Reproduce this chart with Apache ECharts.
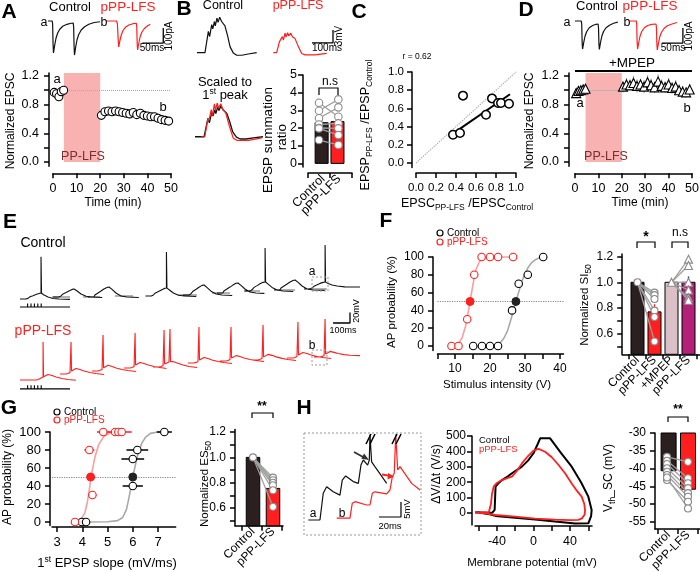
<!DOCTYPE html>
<html><head><meta charset="utf-8">
<script src="https://cdn.jsdelivr.net/npm/echarts@6/dist/echarts.min.js"></script>
<style>html,body{margin:0;padding:0;background:#fff}#c{width:700px;height:572px}</style>
</head><body><div id="c"></div>
<script>
const FONT='"Liberation Sans", Arial, Helvetica, sans-serif';
const RED='#ff1f1f', DARK='#2b1f1f';

// ===== Panel A =====
const aCtlTrace=[[0,0],[10,0],[11,-20],[12,-150],[13,-213],[14,-200],[16,-160],[19,-115],[23,-80],[28,-55],[35,-35],[45,-22],[55,-15],[60,-14],[61,-40],[62,-170],[63,-227],[64,-215],[66,-170],[69,-125],[73,-90],[79,-60],[87,-38],[97,-22],[110,-10],[124,-5]];
const aRedTrace=[[0,0],[25,0],[27,-20],[29,-130],[30,-173],[31,-165],[33,-130],[36,-95],[40,-65],[46,-42],[54,-27],[64,-18],[72,-15],[73,-40],[74,-150],[75,-193],[76,-185],[78,-145],[81,-105],[85,-75],[91,-50],[98,-33],[105,-22]];
const aRedOffset=138;
const aBaseT=[0.5,1.5,2.5,3.5,4.5];
const aBaseV=[0.97,0.95,0.91,0.98,1.00];
const aBaseE=[0.03,0.04,0.04,0.03,0.03];
const aPostT=[20.5,22,23.5,25,26.5,28,29.5,31,32.5,34,35.5,37,38.5,40,41.5,43,44.5,46,47.5,49];
const aPostV=[0.65,0.70,0.71,0.70,0.71,0.70,0.69,0.68,0.67,0.69,0.66,0.68,0.65,0.64,0.63,0.63,0.61,0.59,0.58,0.57];
const aPostE=[0.04,0.04,0.05,0.04,0.05,0.04,0.04,0.05,0.04,0.04,0.05,0.04,0.04,0.04,0.03,0.04,0.03,0.04,0.03,0.03];

// ===== Panel B =====
const bCtlTrace=[[0,0],[38,0],[54,4.9],[60,3.7],[70,6.5],[75,5.5],[83,7.2],[87,6.2],[95,8.0],[100,7.0],[108,8.2],[117,7.2],[133,6.2],[146,3.8],[157,1.4],[173,-0.1],[189,-0.6],[213,-0.6],[244,-0.3],[284,0]];
const bRedTrace=[[0,0],[16,0],[29,2.5],[33,2.2],[43,3.7],[48,2.9],[56,4.5],[60,3.6],[68,4.6],[73,3.9],[83,4.5],[91,3.7],[103,3.3],[119,1.4],[135,-0.2],[151,-0.5],[198,-0.5],[254,-0.15]];
const bRedOffset=363;
const bBarNames=['Control','pPP-LFS'];
const bBarX=[0.62,1.34];
const bBarV=[2.3,2.36];
const bBarErr=[0.22,0.26];
const bCtlPair=[3.43,2.98,2.55,2.2,2.0,1.98,1.32];
const bRedPair=[2.64,3.62,3.17,2.26,1.98,1.6,1.04];
const bYTicks=[0,1,2,3,4,5];

// ===== Panel C =====
const cX=[0.37,0.44,0.47,0.70,0.76,0.82,0.85,0.93];
const cY=[0.31,0.33,0.74,0.53,0.71,0.66,0.66,0.65];
const cFit=[[0.34,0.30],[0.94,0.755]];
const cXTicks=[0,0.2,0.4,0.6,0.8,1.0];
const cYTicks=[0,0.2,0.4,0.6,0.8,1.0];

// ===== Panel D =====
const dCtlTrace=[[0,0],[15,0],[16,-20],[17,-140],[18,-187],[19,-175],[21,-140],[24,-100],[28,-70],[34,-45],[42,-30],[50,-22],[55,-20],[56,-45],[57,-150],[58,-190],[59,-180],[61,-140],[64,-100],[68,-70],[74,-45],[82,-28],[92,-15],[102,-8]];
const dRedTrace=[[0,0],[15,0],[16,-20],[17,-140],[18,-187],[19,-175],[21,-140],[24,-100],[28,-70],[34,-45],[42,-30],[52,-22],[62,-20],[63,-45],[64,-150],[65,-193],[66,-183],[68,-145],[71,-105],[75,-75],[81,-50],[89,-32],[100,-20],[112,-10]];
const dRedOffset=131;
const dBaseT=[0.5,1.5,2.5,3.5,4.5];
const dBaseV=[0.96,0.99,1.00,1.01,1.02];
const dBaseE=[0.06,0.07,0.06,0.07,0.06];
const dPostT=[20.5,22,23.5,25,26.5,28,29.5,31,32.5,34,35.5,37,38.5,40,41.5,43,44.5,46,47.5,49];
const dPostV=[1.05,1.08,1.07,1.10,1.06,1.08,1.05,1.11,1.07,1.04,1.12,1.06,1.04,1.08,1.03,1.05,1.00,0.98,0.97,1.01];
const dPostE=[0.08,0.09,0.08,0.10,0.09,0.08,0.09,0.10,0.09,0.08,0.10,0.09,0.08,0.09,0.08,0.09,0.08,0.08,0.07,0.08];

// ===== Panel E (ms, mV) =====
const eCtlStart=[0,195,401,740,962,1162,1322,1499,1676];
const eCtlBase=[0,3.8,3.8,5.7,7.6,11.4,15.2,17.1,19];
const eCtlSweeps=[
 [[0,0],[35,0],[41,2.3],[47,1.1],[59,4.2],[65,3],[77,6.3],[83,5.1],[94,8.4],[100,7.2],[112,10.5],[124,11.4],[124,80],[127,11],[142,7.6],[165,3.8],[195,1],[230,0],[295,-0.8]],
 [[0,0],[35,0],[41,3],[47,1.9],[59,5.7],[65,4.4],[77,8.4],[83,7.2],[94,11.4],[100,10.3],[112,14.4],[124,15.2],[142,11.4],[165,5.7],[195,1.5],[230,0],[290,-1]],
 [[0,0],[35,0],[41,3.8],[47,2.5],[59,7.6],[65,6.3],[77,11.4],[83,10],[94,15.2],[100,14],[112,18],[124,19],[142,14.4],[165,7.6],[195,2],[230,0],[300,-1]],
 [[0,0],[35,0],[41,3],[47,1.9],[59,5.7],[65,4.4],[77,8.4],[83,7.2],[94,11.4],[100,10.3],[112,14.4],[124,15.2],[124,83.6],[127,15],[142,11.4],[165,5.7],[195,1.5],[230,0],[300,-1]],
 [[0,0],[35,0],[41,3.6],[47,2.4],[59,7.2],[65,6],[77,11],[83,9.8],[94,14.8],[100,13.6],[112,18.2],[124,19],[142,14],[165,7.2],[195,2],[230,0],[290,-1]],
 [[0,0],[35,0],[41,3.8],[47,2.6],[59,7.6],[65,6.4],[77,11.2],[83,10],[94,15],[100,14],[112,18.4],[124,19],[142,14.4],[165,7.6],[195,2],[230,0],[280,-0.8]],
 [[0,0],[35,0],[41,3.4],[47,2.2],[59,6.8],[65,5.6],[77,10.2],[83,9],[94,13.6],[100,12.4],[112,16.4],[124,17.1],[124,81.7],[127,17],[142,13],[165,6.8],[195,1.8],[230,0],[290,-1]],
 [[0,0],[35,0],[41,3.8],[47,2.5],[59,7.6],[65,6.3],[77,11.4],[83,10],[94,15.2],[100,14],[112,18],[124,19],[142,14.4],[165,7.6],[195,2],[230,0],[300,-0.8]],
 [[0,0],[35,0],[41,2.7],[47,1.6],[59,5.3],[65,4.2],[77,8],[83,6.8],[94,10.6],[100,9.5],[112,12.5],[124,13.3],[124,83.6],[127,13],[142,10.5],[165,7.6],[195,5.7],[240,4],[330,3.8]]
];
const eCtlGray=[[189,295,3.8],[372,472,3.8],[560,667,5.7],[932,1044,7.6],[1133,1239,11.4],[1328,1416,15.2],[1516,1623,17.1],[1699,1811,19]];
const eRedStart=[0,236,425,614,785,991,1180,1369,1575,1735];
const eRedBase=[0,11.4,17.1,22.8,24.7,32.3,36.1,38,41.8,43.7];
const eRedSweeps=[
 [[0,0],[95,0],[101,2],[107,1],[113,3.8],[119,2.9],[130,5.7],[136,5.7],[136,72.2],[139,6],[148,9.5],[165,10.5],[189,8.6],[213,5.7],[248,2.9],[283,1],[330,-0.5]],
 [[0,0],[35,0],[41,1.9],[47,1],[53,3.8],[59,2.9],[65,5.7],[65,60.8],[68,5.7],[77,9.5],[94,10.5],[118,8.6],[142,5.7],[177,2.9],[212,1],[260,-1]],
 [[0,0],[35,0],[41,2.2],[47,1.2],[53,4],[59,3],[65,5.7],[65,68.4],[68,6],[77,9.5],[94,10.8],[118,8.6],[142,5.7],[177,2.9],[212,1],[260,-1]],
 [[0,0],[35,0],[41,1.9],[47,1],[53,3.8],[59,2.9],[65,5.7],[65,66.5],[68,5.7],[77,9],[94,10.5],[118,8.6],[142,5.7],[177,2.9],[212,1],[250,-1]],
 [[0,0],[35,0],[41,1.9],[47,1],[53,3.8],[59,2.9],[65,5.7],[65,70.3],[68,5.7],[77,8],[94,9.5],[100,10],[100,72],[103,10],[118,10.5],[142,7.6],[177,3.8],[212,1],[260,-1]],
 [[0,0],[35,0],[41,2],[47,1.1],[53,3.9],[59,3],[65,5.7],[65,68.4],[68,5.8],[77,9.5],[94,10.5],[118,8.6],[142,5.7],[177,2.9],[212,1],[260,-1]],
 [[0,0],[35,0],[41,1.9],[47,1],[53,3.6],[59,2.8],[65,5.5],[65,64.6],[68,5.6],[77,9.2],[94,10.2],[118,8.4],[142,5.7],[177,2.9],[212,1],[260,-1]],
 [[0,0],[35,0],[41,2.1],[47,1.2],[53,3.9],[59,3],[65,5.7],[65,66.5],[68,5.9],[77,9.6],[94,10.6],[118,8.8],[142,5.9],[177,3],[212,1],[260,-1]],
 [[0,0],[35,0],[41,1.9],[47,1],[53,3.8],[59,2.9],[65,5.7],[65,68.4],[68,5.7],[77,9.5],[94,10.5],[118,8.6],[142,5.7],[177,2.9],[212,1],[260,-1]],
 [[0,0],[35,0],[41,2],[47,1.1],[53,3.9],[59,3],[65,5.8],[65,72.2],[68,5.8],[77,9.5],[94,10.6],[118,8.8],[142,6.5],[177,4.5],[212,3.2],[271,2.5]]
];
const eStimTicks=[45,65,85,105,125];

// ===== Panel F =====
const fCtlX=[15.2,17.7,20,22.3,26.3,28.2,30.8,35.2];
const fCtlY=[0,0,0,0,40,70,80,100];
const fRedX=[9,11,13.5,15.5,17.6,20,22.3,26.6];
const fRedY=[0,0,30,80,100,100,100,100];
const fCtl50=[27.4,50], fRed50=[14.3,50];
const fCtlCurve=[[15.2,0],[20,0.3],[22,1.5],[23,4],[24,9],[25,17],[26,30],[27,44],[27.4,50],[28,58],[29,71],[30,82],[31,89],[32,94],[33,97],[34,99],[35.2,100]];
const fRedCurve=[[9,0.3],[10,1],[11,3],[12,9],[13,22],[13.5,32],[14,43],[14.3,50],[15,66],[15.5,77],[16,86],[17,95],[18,99],[19,100],[26.6,100]];
const fBarNames=['Control','pPP-LFS','+MPEP','pPP-LFS'];
const fBarX=[0.5,1.5,2.5,3.5];
const fBarV=[1.0,0.77,1.0,1.0];
const fBarErr=[0,0.06,0,0.045];
const fRedPair=[0.92,0.90,0.87,0.78,0.73,0.54];
const fMpepPair=[1.18,1.13,1.0,0.94,0.88,0.86];

// ===== Panel G =====
const gCtlX=[3.98,4.15,6.0,6.0,6.18,7.25];
const gCtlY=[0,0,40,70,80,100];
const gCtlXe=[0,0,0.4,0.45,0.43,0.3];
const gRedX=[3.71,4.28,4.4,4.83,5.3,5.43,5.56];
const gRedY=[0,80,30,100,100,100,100];
const gRedXe=[0,0.2,0.16,0.25,0.3,0.3,0.4];
const gCtl50=[6.0,50], gRed50=[4.33,50];
const gCtlCurve=[[4.0,0],[5.0,0.2],[5.4,1.5],[5.6,5],[5.75,14],[5.85,27],[5.95,42],[6.0,50],[6.1,63],[6.2,75],[6.35,87],[6.5,94],[6.7,98.5],[7.0,100],[7.3,100]];
const gRedCurve=[[3.7,0.5],[3.95,3],[4.1,10],[4.2,22],[4.3,40],[4.33,47],[4.4,58],[4.5,72],[4.65,86],[4.85,95],[5.1,99],[5.4,100]];
const gBarNames=['Control','pPP-LFS'];
const gBarX=[0.55,1.55];
const gBarV=[1.0,0.755];
const gRedPair=[0.84,0.82,0.80,0.78,0.74,0.61];

// ===== Panel H =====
const hCtlTrace=[[3.9,5],[14.5,5],[17.5,13.9],[20.6,16.1],[26.6,14.4],[32.7,13.3],[34.8,18.3],[37.9,19.7],[44.8,17.8],[49.4,17.2],[51.8,23.3],[53.9,25],[57.9,23.3],[59.4,25],[60,33.5],[60.9,33.5],[61.5,24.4],[64.5,22.8],[75.2,17.2]];
const hRedTrace=[[29.7,5.6],[41.8,5.6],[43.9,10.6],[46.4,11.1],[57,10],[60,10],[62.1,13.9],[64.5,14.4],[75.2,13.7],[78.2,15],[80.3,19.4],[82.1,20.6],[83.4,33.5],[84.3,33.5],[85.2,21.7],[87.3,22.8],[97.9,17.2],[105.5,15]];
const hBlackLoop=[[-64,3],[-60,5],[-56,2],[-52,3],[-48,1],[-45,2],[-43,3],[-42.5,20],[-42,100],[-41.5,171],[-38,195],[-34.5,214],[-28,238],[-23.6,258],[-18,280],[-12.7,301],[-6,340],[0,388],[4,440],[7.3,485],[18.2,485],[30,390],[41.8,301],[52,200],[60,106],[63.6,19],[63,-20],[60,-67],[45.5,-69],[23.6,-56],[1.8,-43],[-20,-31],[-41.8,-19],[-48,-8],[-55,-2]];
const hRedLoop=[[-64,4],[-60,3],[-56,5],[-52,2],[-49,1],[-47.2,0],[-46.5,60],[-45.5,120],[-43.6,171],[-40,195],[-34.5,214],[-28,228],[-23.6,236],[-18,275],[-12.7,322],[-6,370],[0,405],[5.5,416],[12.7,398],[20,362],[27,315],[34.5,258],[42,190],[48,140],[52.7,106],[55.5,60],[56.4,19],[56,-10],[53,-35],[49,-45],[40,-46],[23.6,-43],[1.8,-37],[-20,-24],[-41.8,-13],[-52.7,-3],[-60,0]];
const hBarNames=['Control','pPP-LFS'];
const hBarX=[0.53,1.5];
const hBarV=[-40.6,-45.8];
const hCtlPair=[-36.7,-37.8,-38.7,-39.9,-40.9,-41.8,-43.2,-42.5];
const hRedPair=[-38.1,-42.7,-44.1,-45.5,-46.9,-47.9,-49.3,-51.2];

// ===== builders =====
const grids=[],xAxes=[],yAxes=[],series=[],graphic=[];
function hid(min,max){return {type:'value',min:min,max:max,show:false};}
function near(arr,v){let b=0;arr.forEach((a,i)=>{if(Math.abs(a-v)<Math.abs(arr[b]-v))b=i;});return b;}
function vis(o){const ax={type:'value',min:o.min,max:o.max,offset:o.offset||0,
 axisLine:{show:true,onZero:false,lineStyle:{color:'#000',width:1.5}},
 axisTick:{show:true,length:o.tl||5,customValues:o.ticks.slice(),lineStyle:{color:'#000',width:1.5}},
 axisLabel:{show:!!o.labels,formatter:o.fmt||(v=>String(v)),fontSize:o.fs||12,fontFamily:FONT,color:'#000',margin:(o.margin!=null?o.margin:9),rotate:o.rotate||0,hideOverlap:false},
 splitLine:{show:false},minorTick:{show:false}};
 if(o.labels) ax.axisLabel.customValues=o.labels.slice();
 return ax;}
const gridRects=[];
function addGrid(r,xa,ya){const i=grids.length;gridRects.push({r:r,ymin:ya.min,ymax:ya.max,off:ya.offset||0});grids.push({left:r[0],top:r[1],width:r[2],height:r[3],containLabel:false,outerBoundsMode:'none'});xa.gridIndex=i;ya.gridIndex=i;xAxes.push(xa);yAxes.push(ya);return i;}
function line(g,data,color,w,extra){series.push(Object.assign({type:'line',xAxisIndex:g,yAxisIndex:g,data:data,symbol:'none',showSymbol:false,connectNulls:false,clip:false,silent:true,lineStyle:{color:color,width:w||1.2},z:3},extra||{}));}
function pts(g,data,symbol,size,fill,stroke,bw,extra){series.push(Object.assign({type:'scatter',xAxisIndex:g,yAxisIndex:g,data:data,symbol:symbol,symbolSize:size,silent:true,itemStyle:{color:fill,borderColor:stroke,borderWidth:bw||1.2,opacity:1},z:5},extra||{}));}
function segs(g,data,color,w,z){series.push({type:'custom',xAxisIndex:g,yAxisIndex:g,silent:true,z:z||4,data:data,renderItem:function(p,api){const a=api.coord([api.value(0),api.value(1)]),b=api.coord([api.value(2),api.value(3)]);return {type:'line',shape:{x1:a[0],y1:a[1],x2:b[0],y2:b[1]},style:{stroke:color,lineWidth:w||1.2}};}});}
function bars(g,xs,vs,colors,w,base){series.push({type:'custom',xAxisIndex:g,yAxisIndex:g,silent:true,z:2,data:xs.map((x,i)=>[x,vs[i],i]),renderItem:function(p,api){const x=api.value(0),v=api.value(1),i=api.value(2);const a=api.coord([x,v]),b=api.coord([x,base]);return {type:'rect',shape:{x:a[0]-w/2,y:Math.min(a[1],b[1]),width:w,height:Math.abs(b[1]-a[1])},style:{fill:colors[i],stroke:'#000',lineWidth:1}};}});}
const RICH={sub:{fontSize:8.5,lineHeight:10,verticalAlign:'bottom'},sup:{fontSize:8.5,lineHeight:10,verticalAlign:'top'}};
function txt(x,y,text,o){o=o||{};const st={text:text,fill:o.color||'#000',fontSize:o.fs||12,fontFamily:FONT,fontWeight:o.fw||'normal',align:o.align||'center',verticalAlign:'middle'};if(text.indexOf('{')>=0){st.rich=RICH;st.lineHeight=o.lh||16;}else if(o.lh){st.lineHeight=o.lh;}
 graphic.push({type:'text',x:x,y:y,rotation:o.angle!=null?o.angle:(o.rot?Math.PI/2:0),z:50,silent:true,style:st});}
function pl(points,color,w,dash){graphic.push({type:'polyline',z:50,silent:true,shape:{points:points},style:{stroke:color||'#000',lineWidth:w||1.2,fill:'none',lineDash:dash||null}});}
function box(x,y,w,h){graphic.push({type:'rect',z:50,silent:true,shape:{x:x,y:y,width:w,height:h},style:{fill:'none',stroke:'#999',lineWidth:1,lineDash:[2,2]}});}
function bracket(x1,x2,yt,yb){pl([[x1,yb],[x1,yt],[x2,yt],[x2,yb]],'#000',1.2);}
function circ(cx,cy,color){graphic.push({type:'circle',z:50,silent:true,shape:{cx:cx,cy:cy,r:3},style:{fill:'#fff',stroke:color,lineWidth:1.2}});}
function tri(p,color){graphic.push({type:'polygon',z:50,silent:true,shape:{points:p},style:{fill:color}});}
// tick labels for a grid's y axis, placed with that grid's own linear y mapping
function yTickText(gi,vals,fmt,fs,gap){const G=gridRects[gi];const r=G.r;
  vals.forEach(v=>{const y=r[1]+(G.ymax-v)/(G.ymax-G.ymin)*r[3];
    graphic.push({type:'text',x:r[0]-G.off-gap,y:y,z:100,silent:true,style:{text:fmt(v),align:'right',verticalAlign:'middle',fontSize:fs,fontFamily:FONT,fill:'#000'}});});}
const shift=(arr,dt)=>arr.map(p=>[p[0]+dt,p[1]]);
const zip=(xs,ys)=>xs.map((x,i)=>[x,ys[i]]);
function sweeps(starts,bases,shapes){const out=[];shapes.forEach((s,k)=>{s.forEach(p=>out.push([starts[k]+p[0],bases[k]+p[1]]));out.push([null,null]);});return out;}

// ----- A -----
let g=addGrid([48,15,122,46.5],hid(0,290),hid(-270,40));
line(g,aCtlTrace,'#111',1.2);
line(g,shift(aRedTrace,aRedOffset),RED,1.2);
line(g,[[224,-147],[274,-147],[274,-47]],'#000',1.3);

g=addGrid([53,73,118,93.3],vis({min:0,max:50,offset:7,ticks:[0,10,20,30,40,50],labels:[0,10,20,30,40,50],fs:12.5}),vis({min:-0.06,max:1.24,offset:4,ticks:[0,0.2,0.4,0.6,0.8,1.0,1.2],labels:[0,0.4,0.8,1.2],fmt:v=>v.toFixed(1),fs:12.5,margin:10}));
segs(g,aBaseT.map((t,i)=>[t,aBaseV[i]-aBaseE[i],t,aBaseV[i]+aBaseE[i]]).concat(aPostT.map((t,i)=>[t,aPostV[i]-aPostE[i],t,aPostV[i]+aPostE[i]])),'#9a9a9a',1.3,3);
pts(g,zip(aBaseT,aBaseV).concat(zip(aPostT,aPostV)),'circle',8,'#fff','#000',1.1,{
 markArea:{silent:true,itemStyle:{color:'#f8b2b2'},data:[[{xAxis:4.6,yAxis:0},{xAxis:20,yAxis:1.24}]]},
 markLine:{silent:true,symbol:'none',label:{show:false},lineStyle:{color:'#aaa',type:'dotted',width:1},data:[{yAxis:1}]}});

// ----- B -----
g=addGrid([197,13.7,136,43.3],hid(0,647),hid(-1,9));
line(g,bCtlTrace,'#111',1.2);
line(g,shift(bRedTrace,bRedOffset),RED,1.2);
line(g,[[547,2.24],[647,2.24],[647,5.24]],'#000',1.3);
g=addGrid([195,101.2,68,39.3],hid(0,284),hid(-1,9.5));
const bScale=bCtlTrace[2][1]/bRedTrace[2][1], bShift=bCtlTrace[2][0]-bRedTrace[2][0];
line(g,bCtlTrace,'#111',1.3);
line(g,bRedTrace.map(p=>[p[0]+bShift,p[1]*bScale]),RED,1.2);
const gB=addGrid([308,75,44,91.9],vis({min:0,max:2,offset:6,ticks:[0,1,2],labels:null}),vis({min:-0.2,max:5,offset:5,ticks:bYTicks,labels:null}));
bars(gB,bBarX,bBarV,[DARK,RED],13,0);
segs(gB,[[bBarX[0],bBarV[0],bBarX[0],bBarV[0]+bBarErr[0]]],'#000',1.2,3);
segs(gB,[[bBarX[1],bBarV[1],bBarX[1],bBarV[1]+bBarErr[1]]],RED,1.2,3);
segs(gB,bCtlPair.map((c,i)=>[0.5,c,1.38,bRedPair[i]]),'#a0a0a0',1.3,4);
pts(gB,bCtlPair.map(v=>[0.5,v]).concat(bRedPair.map(v=>[1.38,v])),'circle',7.5,'#fff','#8a8a8a',1.1);

// ----- C -----
const gC=addGrid([416,72,100,95.5],vis({min:0,max:1,offset:5.5,ticks:cXTicks,labels:cXTicks,fmt:v=>v.toFixed(1),fs:11.5,margin:9}),vis({min:-0.05,max:1,offset:4,ticks:cYTicks,labels:null}));
line(gC,[[0,0],[1,1]],'#aaa',1.2,{lineStyle:{color:'#aaa',width:1.2,type:'dotted'}});
line(gC,cFit,'#000',2);
pts(gC,zip(cX,cY),'circle',8.5,'#fff','#000',1.5);

// ----- D -----
g=addGrid([575,15,110,46.5],hid(0,262),hid(-270,40));
line(g,dCtlTrace,'#111',1.2);
line(g,shift(dRedTrace,dRedOffset),RED,1.2);
line(g,[[207,-147],[257,-147],[257,-47]],'#000',1.3);
g=addGrid([575,73,117,93.3],vis({min:0,max:50,offset:7,ticks:[0,10,20,30,40,50],labels:[0,10,20,30,40,50],fs:12.5}),vis({min:-0.06,max:1.24,offset:6,ticks:[0,0.2,0.4,0.6,0.8,1.0,1.2],labels:[0,0.4,0.8,1.2],fmt:v=>v.toFixed(1),fs:12.5,margin:10}));
segs(g,dBaseT.map((t,i)=>[t,dBaseV[i]-dBaseE[i],t,dBaseV[i]+dBaseE[i]]).concat(dPostT.map((t,i)=>[t,dPostV[i]-dPostE[i],t,dPostV[i]+dPostE[i]])),'#a5a5a5',1.3,3);
pts(g,zip(dBaseT,dBaseV).concat(zip(dPostT,dPostV)),'triangle',9,'#fff','#000',1.1,{
 markArea:{silent:true,itemStyle:{color:'#f8b2b2'},data:[[{xAxis:4.5,yAxis:0},{xAxis:20,yAxis:1.24}]]},
 markLine:{silent:true,symbol:'none',label:{show:false},lineStyle:{color:'#b5b5b5',type:'solid',width:1},data:[{yAxis:1}]}});

// ----- E -----
g=addGrid([20,243.7,340,81.6],hid(0,2006),hid(-50,105));
const grayData=[];eCtlGray.forEach(s=>{grayData.push([s[0],s[2]],[s[1],s[2]],[null,null]);});
line(g,grayData,'#9a9a9a',1.6,{z:2});
line(g,sweeps(eCtlStart,eCtlBase,eCtlSweeps),'#111',1.1);
line(g,[[0,-15.2],[295,-15.2]],'#000',1.2);
segs(g,eStimTicks.map(t=>[t,-15.2,t,-8.5]),'#000',1.1);
line(g,[[1847,-45.6],[1947,-45.6],[1947,-25.6]],'#000',1.3);
g=addGrid([20,314.2,340,76.3],hid(0,2006),hid(-20,125));
line(g,sweeps(eRedStart,eRedBase,eRedSweeps),RED,1.1);
line(g,[[0,-17.1],[295,-17.1]],'#000',1.2);
segs(g,eStimTicks.map(t=>[t,-17.1,t,-10]),'#000',1.1);

// ----- F -----
g=addGrid([437.5,257,126,93.45],vis({min:5,max:41,offset:3.5,ticks:[5,10,15,20,25,30,35,40],labels:[10,20,30,40]}),vis({min:-5,max:100,offset:4.5,ticks:[0,20,40,60,80,100],labels:[0,20,40,60,80,100]}));
line(g,fCtlCurve,'#a8a8a8',1.6,{markLine:{silent:true,symbol:'none',label:{show:false},lineStyle:{color:'#888',type:'dotted',width:1.2},data:[{yAxis:50}]}});
line(g,fRedCurve,'#f7a0a0',1.6);
pts(g,zip(fCtlX,fCtlY),'circle',7.5,'#fff','#000',1.1);
pts(g,zip(fRedX,fRedY),'circle',7.5,'#fff',RED,1.1);
pts(g,[fCtl50],'circle',8,'#222','#222',1);
pts(g,[fRed50],'circle',8,RED,RED,1);
g=addGrid([622.2,254,77.8,100.3],vis({min:-0.4,max:4.176,ticks:[0,1,2,3,4],labels:fBarX,fmt:v=>fBarNames[near(fBarX,v)],rotate:45,margin:4}),vis({min:0.44,max:1.22,ticks:[0.5,0.6,0.7,0.8,0.9,1.0,1.1,1.2],labels:[0.6,0.8,1.0,1.2],fmt:v=>v.toFixed(1)}));
bars(g,fBarX,fBarV,[DARK,RED,'#dcc0c8','#b3207a'],13,0.44);
segs(g,[[1.5,fBarV[1],1.5,fBarV[1]+fBarErr[1]]],RED,1.3,3);
segs(g,[[3.5,fBarV[3],3.5,fBarV[3]+fBarErr[3]]],'#222',1.3,3);
segs(g,fRedPair.map(v=>[0.5,1.0,1.5,v]).concat(fMpepPair.map(v=>[2.5,1.0,3.5,v])),'#a0a0a0',1.3,4);
pts(g,[[0.5,1.0]].concat(fRedPair.map(v=>[1.5,v])),'circle',7,'#fff','#8a8a8a',1.1);
pts(g,[[2.5,1.0]].concat(fMpepPair.map(v=>[3.5,v])),'triangle',8,'#fff','#8a8a8a',1.1);

// ----- G -----
g=addGrid([52,432,123.7,93.6],vis({min:2.8,max:7.7,offset:1.5,ticks:[3,4,5,6,7],labels:[3,4,5,6,7],fs:13}),vis({min:-4,max:100,offset:2,ticks:[0,20,40,60,80,100],labels:[0,20,40,60,80,100],fs:13}));
line(g,gCtlCurve,'#a8a8a8',1.6,{markLine:{silent:true,symbol:'none',label:{show:false},lineStyle:{color:'#888',type:'dotted',width:1.2},data:[{yAxis:50}]}});
line(g,gRedCurve,'#f7a0a0',1.6);
segs(g,gCtlX.map((x,i)=>[x-gCtlXe[i],gCtlY[i],x+gCtlXe[i],gCtlY[i]]),'#000',1.5,4);
segs(g,gRedX.map((x,i)=>[x-gRedXe[i],gRedY[i],x+gRedXe[i],gRedY[i]]),RED,1.5,4);
pts(g,zip(gCtlX,gCtlY),'circle',7.5,'#fff','#000',1.1);
pts(g,zip(gRedX,gRedY),'circle',7.5,'#fff',RED,1.1);
pts(g,[gCtl50],'circle',8,'#222','#222',1);
pts(g,[gRed50],'circle',8,RED,RED,1);
g=addGrid([235,429.5,48,96.3],vis({min:-0.35,max:2.05,ticks:[0,1,2],labels:gBarX,fmt:v=>gBarNames[near(gBarX,v)],rotate:45,margin:4}),vis({min:0.46,max:1.22,ticks:[0.5,0.6,0.7,0.8,0.9,1.0,1.1,1.2],labels:[0.6,0.8,1.0,1.2],fmt:v=>v.toFixed(1)}));
bars(g,gBarX,gBarV,[DARK,RED],13.5,0.46);
segs(g,gRedPair.map(v=>[0.55,1.0,1.55,v]),'#a0a0a0',1.3,4);
pts(g,[[0.55,1.0]].concat(gRedPair.map(v=>[1.55,v])),'circle',7,'#fff','#8a8a8a',1.1);

// ----- H -----
g=addGrid([304,433,117,102],hid(0,106.4),hid(0,34));
line(g,hCtlTrace,'#111',1.2);
line(g,hRedTrace,RED,1.2);
line(g,[[68.2,6],[88.2,6],[88.2,11]],'#000',1.2);
g=addGrid([475,436,117,89],vis({min:-64,max:64,offset:1,ticks:[-60,-40,-20,0,20,40,60],labels:[-40,0,40],fs:12.5}),vis({min:-78,max:500,offset:3,ticks:[0,100,200,300,400,500],labels:[0,100,200,300,400,500],fs:12,margin:6}));
line(g,hBlackLoop,'#000',2);
line(g,hRedLoop,RED,1.8);
g=addGrid([655,433,45,96.1],vis({min:-0.15,max:2.1,ticks:[0,1,2],labels:hBarX,fmt:v=>hBarNames[near(hBarX,v)],rotate:45,margin:4}),vis({min:-57,max:-30,ticks:[-55,-50,-45,-40,-35,-30],labels:[-55,-50,-45,-40,-35,-30]}));
bars(g,hBarX,hBarV,[DARK,RED],15,-30);
segs(g,hCtlPair.map((c,i)=>[0.45,c,1.5,hRedPair[i]]),'#a0a0a0',1.3,4);
pts(g,hCtlPair.map(v=>[0.45,v]).concat(hRedPair.map(v=>[1.5,v])),'circle',7,'#fff','#8a8a8a',1.1);

// ===== annotations =====
[['A',9,12],['B',184,9],['C',359,12],['D',526,10],['E',10,222],['F',386,221],['G',9,408],['H',304,408]].forEach(a=>txt(a[1],a[2],a[0],{fs:21,fw:'bold'}));
txt(70,7,'Control',{fs:13}); txt(128,7,'pPP-LFS',{fs:13.5,color:RED});
txt(44,23,'a',{fs:12.5}); txt(104,23,'b',{fs:12.5});
txt(152,48,'50ms',{fs:10}); txt(169,36,'100pA',{fs:10,rot:true});
txt(57,79,'a',{fs:13}); txt(163,107,'b',{fs:13});
txt(83,157,'PP-LFS',{fs:12.5,color:'#7a2e2e'});
txt(11,121,'Normalized EPSC',{fs:12,rot:true}); txt(113,203,'Time (min)',{fs:12});
txt(223,6,'Control',{fs:12.5}); txt(298,6,'pPP-LFS',{fs:12.5,color:RED});
txt(327,48,'100ms',{fs:10}); txt(339,36,'3mV',{fs:10,rot:true});
txt(225,82,'Scaled to',{fs:13}); txt(225,95,'1{sup|st} peak',{fs:13});
txt(268,140,'EPSP summation',{fs:13.5,rot:true});
txt(282,137,'ratio',{fs:13.5,rot:true});
txt(323,177,bBarNames[0],{fs:12.5,align:'right',angle:Math.PI/4});
txt(339,177,bBarNames[1],{fs:12.5,align:'right',angle:Math.PI/4});
bracket(319,338,88,95); txt(330,82,'n.s',{fs:12});
txt(417,57,'r = 0.62',{fs:8.5});
txt(366,125,'EPSP{sub|PP-LFS} /EPSP{sub|Control}',{fs:12.5,rot:true});
txt(467,204,'EPSC{sub|PP-LFS} /EPSC{sub|Control}',{fs:12.5});
txt(597,6,'Control',{fs:13}); txt(650,6,'pPP-LFS',{fs:13.5,color:RED});
txt(567,23,'a',{fs:12.5}); txt(627,23,'b',{fs:12.5});
txt(673,48,'50ms',{fs:10}); txt(689,36,'100pA',{fs:10,rot:true});
pl([[575,71],[692,71]],'#000',2); txt(632,63,'+MPEP',{fs:13.5});
txt(580,103,'a',{fs:13}); txt(687,108,'b',{fs:13});
txt(606,157,'PP-LFS',{fs:12.5,color:'#7a2e2e'});
txt(530,121,'Normalized EPSC',{fs:12,rot:true}); txt(640,203,'Time (min)',{fs:12});
txt(43,243,'Control',{fs:14}); txt(43,331,'pPP-LFS',{fs:14,color:RED});
txt(312,272,'a',{fs:12}); txt(312,346,'b',{fs:12});
box(312,277,16,14); box(312,350,15,15);
txt(357,311,'20mV',{fs:9,rot:true}); txt(343,331,'100ms',{fs:9});
circ(440,233,'#000'); txt(447,233,'Control',{fs:10,align:'left'});
circ(440,242,RED); txt(447,242,'pPP-LFS',{fs:10,align:'left',color:RED});
txt(392,302,'AP probability (%)',{fs:11.5,rot:true}); txt(497,385,'Stimulus intensity (V)',{fs:11.5});
txt(585,305,'Normalized SI{sub|50}',{fs:11.5,rot:true});
bracket(637,655,242,248); txt(646,237,'*',{fs:14,fw:'bold'});
bracket(672,688,242,248); txt(680,233,'n.s',{fs:12});
circ(57,412,'#000'); txt(64,412,'Control',{fs:10,align:'left'});
circ(57,420,RED); txt(64,420,'pPP-LFS',{fs:10,align:'left',color:RED});
txt(8,477,'AP probability (%)',{fs:12,rot:true}); txt(107,563,'1{sup|st} EPSP slope (mV/ms)',{fs:13});
txt(205,484,'Normalized ES{sub|50}',{fs:11.5,rot:true});
bracket(252,273,413,418); txt(262,407,'**',{fs:12,fw:'bold'});
box(304,433,117,102);
txt(313,514,'a',{fs:12}); txt(342,514,'b',{fs:12});
txt(390,526,'20ms',{fs:9.5}); txt(407,509,'5mV',{fs:9.5,rot:true});
pl([[366,444],[371,434]],'#000',1.5); pl([[370,444],[375,434]],'#000',1.5);
pl([[392,444],[397,434]],'#000',1.5); pl([[396,444],[401,434]],'#000',1.5);
pl([[354,452],[364,457.5]],'#333',1.8); tri([[369,460],[361.3,458.7],[364.1,453.5]],'#333');
pl([[382,474.5],[389,475.7]],RED,1.8); tri([[394,476.5],[388,473],[387.5,479.5]],RED);
txt(479,440,'Control',{fs:9.5,align:'left'}); txt(479,449,'pPP-LFS',{fs:9.5,align:'left',color:RED});
txt(437,474,'ΔV/Δt (V/s)',{fs:12,rot:true}); txt(532,563,'Membrane potential (mV)',{fs:11.5});
txt(609,478,'V{sub|th}_SC (mV)',{fs:12,rot:true});
bracket(668,688,417,422); txt(678,410,'**',{fs:12,fw:'bold'});
// y tick labels of B and C, drawn last so nothing is painted over them
yTickText(gB,bYTicks,v=>String(v),12.5,6);
yTickText(gC,cYTicks,v=>v.toFixed(1),11.5,8);

const chart=echarts.init(document.getElementById('c'),null,{renderer:'canvas',width:700,height:572});
chart.setOption({animation:false,backgroundColor:'#fff',grid:grids,xAxis:xAxes,yAxis:yAxes,series:series,graphic:graphic});
</script></body></html>
